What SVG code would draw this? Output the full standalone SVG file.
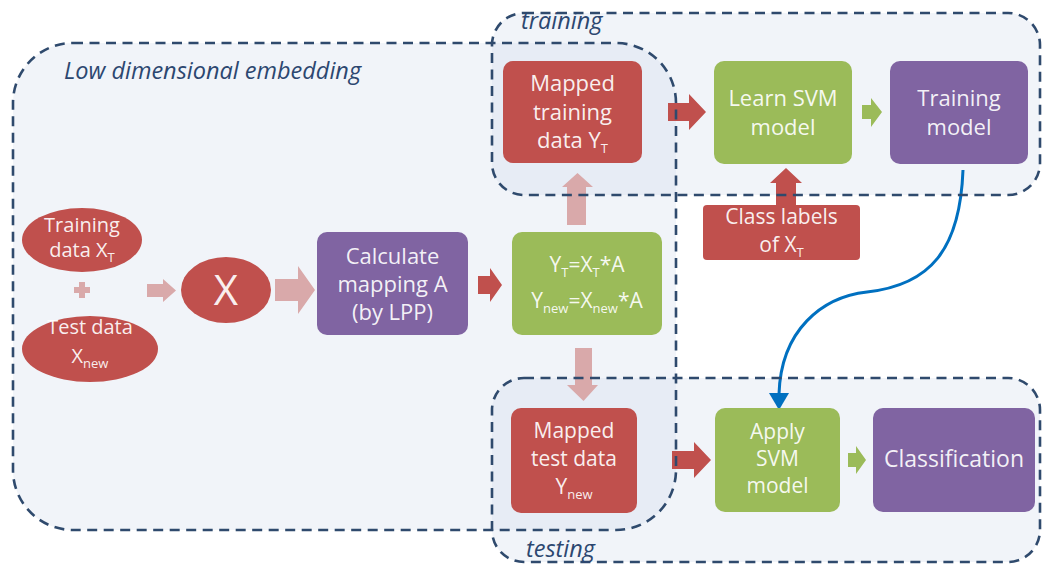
<svg xmlns="http://www.w3.org/2000/svg" width="1042" height="570" viewBox="0 0 1042 570">
<defs>
<style>
.rfill{fill:#d0dcea;fill-opacity:0.3;stroke:none}
.rline{fill:none;stroke:#2f4a6d;stroke-width:2.6;stroke-dasharray:10 6.5}
.red{fill:#c0504d}
.grn{fill:#9bbb59}
.pur{fill:#8064a2}
.pink{fill:#d9a9aa}
.t{font-family:"Open Sans","Liberation Sans",sans-serif;font-size:22px;text-anchor:middle;fill:#ffffff;fill-opacity:0.92}
.lab{font-family:"Open Sans","Liberation Sans",sans-serif;font-style:italic;font-size:23.5px;fill:#2c4770}
.sub{font-size:13px}
</style>
</defs>
<rect x="0" y="0" width="1042" height="570" fill="#ffffff"/>
<g id="region-fills">
<rect class="rfill" x="13" y="43" width="663" height="487" rx="60"/>
<rect class="rfill" x="492" y="13" width="548" height="182" rx="32"/>
<rect class="rfill" x="492" y="378" width="548" height="184" rx="32"/>
</g>
<g id="connectors">
<polygon class="pink" points="147,284 163,284 163,279 176,290.5 163,302 163,297 147,297"/>
<polygon class="pink" points="275,279 298,279 298,266 315,290 298,314 298,301 275,301"/>
<polygon class="red" points="478,276 490,276 490,268 502,285 490,302 490,294 478,294"/>
<polygon class="pink" points="567,225 567,187 562,187 577.5,173 593,187 586,187 586,225"/>
<polygon class="pink" points="575,348 592,348 592,385 598,385 583.5,401 567,385 575,385"/>
<polygon class="red" points="668,103 689,103 689,94 706,112 689,130 689,121 668,121"/>
<polygon class="grn" points="862,105 871,105 871,98 882,112 871,127 871,119 862,119"/>
<polygon class="red" points="776,205 776,183 770,183 786,168 802,183 796,183 796,205"/>
<polygon class="red" points="672,451 694,451 694,442 711,460 694,478 694,469 672,469"/>
<polygon class="grn" points="848,453 856,453 856,446 866,460 856,474 856,467 848,467"/>
<path d="M963,170 C960,250 930,285 867,292 C822,297 781,330 779,394" fill="none" stroke="#0070c0" stroke-width="3"/>
<polygon points="769,393 789,393 779,410" fill="#0070c0"/>
</g>
<g id="region-outlines">
<rect class="rline" x="13" y="43" width="663" height="487" rx="60"/>
<rect class="rline" x="492" y="13" width="548" height="182" rx="32"/>
<rect class="rline" x="492" y="378" width="548" height="184" rx="32"/>
<text class="lab" x="64" y="79">Low dimensional embedding</text>
<text class="lab" x="521" y="29">training</text>
<text class="lab" x="526" y="557">testing</text>
</g>
<g id="node-training-data">
<ellipse class="red" cx="82" cy="240" rx="60" ry="32"/>
<text class="t" x="82" y="232" style="font-size:20px">Training</text>
<text class="t" x="82" y="257" style="font-size:20px">data X<tspan class="sub" dy="5">T</tspan></text>
</g>
<g id="node-plus">
<rect class="pink" x="74" y="287" width="16" height="6"/>
<rect class="pink" x="79" y="282" width="6" height="16"/>
</g>
<g id="node-test-data">
<ellipse class="red" cx="90" cy="349" rx="68" ry="33"/>
<text class="t" x="90" y="334" style="font-size:20px">Test data</text>
<text class="t" x="90" y="363" style="font-size:20px">X<tspan class="sub" dy="5">new</tspan></text>
</g>
<g id="node-x">
<ellipse class="red" cx="226" cy="290" rx="45" ry="33"/>
<text class="t" x="226" y="305" style="font-size:42px">X</text>
</g>
<g id="node-calculate">
<rect class="pur" x="317" y="232" width="151" height="103" rx="10"/>
<text class="t" x="392.5" y="264">Calculate</text>
<text class="t" x="392.5" y="292">mapping A</text>
<text class="t" x="392.5" y="320">(by LPP)</text>
</g>
<g id="node-equations">
<rect class="grn" x="512" y="232" width="150" height="103" rx="10"/>
<text class="t" x="587" y="272" style="font-size:21px">Y<tspan class="sub" dy="5">T</tspan><tspan dy="-5">=X</tspan><tspan class="sub" dy="5">T</tspan><tspan dy="-5">*A</tspan></text>
<text class="t" x="587" y="308" style="font-size:21px">Y<tspan class="sub" dy="5">new</tspan><tspan dy="-5">=X</tspan><tspan class="sub" dy="5">new</tspan><tspan dy="-5">*A</tspan></text>
</g>
<g id="node-mapped-training">
<rect class="red" x="503" y="61" width="139" height="102" rx="10"/>
<text class="t" x="572.5" y="91">Mapped</text>
<text class="t" x="572.5" y="120">training</text>
<text class="t" x="572.5" y="148">data Y<tspan class="sub" dy="5">T</tspan></text>
</g>
<g id="node-learn-svm">
<rect class="grn" x="714" y="61" width="138" height="103" rx="10"/>
<text class="t" x="783" y="106">Learn SVM</text>
<text class="t" x="783" y="135">model</text>
</g>
<g id="node-training-model">
<rect class="pur" x="890" y="61" width="138" height="103" rx="10"/>
<text class="t" x="959" y="106">Training</text>
<text class="t" x="959" y="135">model</text>
</g>
<g id="node-class-labels">
<rect class="red" x="703" y="205" width="157" height="55" rx="4"/>
<text class="t" x="781.5" y="224" style="font-size:21px">Class labels</text>
<text class="t" x="781.5" y="252" style="font-size:21px">of X<tspan class="sub" dy="5">T</tspan></text>
</g>
<g id="node-mapped-test">
<rect class="red" x="511" y="408" width="126" height="105" rx="10"/>
<text class="t" x="574" y="438" style="font-size:21px">Mapped</text>
<text class="t" x="574" y="466" style="font-size:21px">test data</text>
<text class="t" x="574" y="494" style="font-size:21px">Y<tspan class="sub" dy="5">new</tspan></text>
</g>
<g id="node-apply-svm">
<rect class="grn" x="715" y="408" width="125" height="104" rx="10"/>
<text class="t" x="777.5" y="439" style="font-size:21px">Apply</text>
<text class="t" x="777.5" y="466" style="font-size:21px">SVM</text>
<text class="t" x="777.5" y="493" style="font-size:21px">model</text>
</g>
<g id="node-classification">
<rect class="pur" x="873" y="408" width="162" height="104" rx="10"/>
<text class="t" x="954" y="467" style="font-size:23px">Classification</text>
</g>
</svg>
